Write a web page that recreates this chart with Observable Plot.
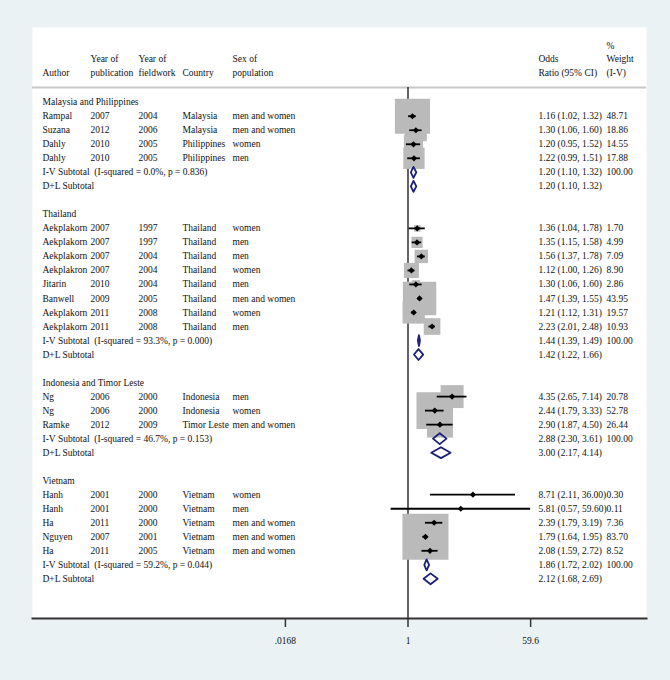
<!DOCTYPE html>
<html><head><meta charset="utf-8">
<script src="https://cdn.jsdelivr.net/npm/d3@7"></script>
<script src="https://cdn.jsdelivr.net/npm/@observablehq/plot@0.6"></script>
<style>body{margin:0;background:#eaf2f3;} svg text{white-space:pre;}</style>
</head><body><div id="chart"></div>
<script>
// ---- data ----
const groupNames = ["Malaysia and Philippines", "Thailand", "Indonesia and Timor Leste", "Vietnam"];
const studyGroup = [0,0,0,0, 1,1,1,1,1,1,1,1, 2,2,2, 3,3,3,3,3];
const authors = ["Rampal","Suzana","Dahly","Dahly",
  "Aekplakorn","Aekplakorn","Aekplakorn","Aekplakron","Jitarin","Banwell","Aekplakorn","Aekplakorn",
  "Ng","Ng","Ramke",
  "Hanh","Hanh","Ha","Nguyen","Ha"];
const pubYears = ["2007","2012","2010","2010",
  "2007","2007","2007","2007","2010","2009","2011","2011",
  "2006","2006","2012",
  "2001","2001","2011","2007","2011"];
const fieldYears = ["2004","2006","2005","2005",
  "1997","1997","2004","2004","2004","2005","2008","2008",
  "2000","2000","2009",
  "2000","2000","2000","2001","2005"];
const countries = ["Malaysia","Malaysia","Philippines","Philippines",
  "Thailand","Thailand","Thailand","Thailand","Thailand","Thailand","Thailand","Thailand",
  "Indonesia","Indonesia","Timor Leste",
  "Vietnam","Vietnam","Vietnam","Vietnam","Vietnam"];
const sexes = ["men and women","men and women","women","men",
  "women","men","men","women","men","men and women","women","men",
  "men","women","men and women",
  "women","men","men and women","men and women","men and women"];
const orEst = [1.16,1.30,1.20,1.22, 1.36,1.35,1.56,1.12,1.30,1.47,1.21,2.23, 4.35,2.44,2.90, 8.71,5.81,2.39,1.79,2.08];
const orLo  = [1.02,1.06,0.95,0.99, 1.04,1.15,1.37,1.00,1.06,1.39,1.12,2.01, 2.65,1.79,1.87, 2.11,0.57,1.79,1.64,1.59];
const orHi  = [1.32,1.60,1.52,1.51, 1.78,1.58,1.78,1.26,1.60,1.55,1.31,2.48, 7.14,3.33,4.50, 36.00,59.60,3.19,1.95,2.72];
const weights = [48.71,18.86,14.55,17.88, 1.70,4.99,7.09,8.90,2.86,43.95,19.57,10.93, 20.78,52.78,26.44, 0.30,0.11,7.36,83.70,8.52];

const ivEst = [1.20,1.44,2.88,1.86];
const ivLo  = [1.10,1.39,2.30,1.72];
const ivHi  = [1.32,1.49,3.61,2.02];
const iSquared = [0.0,93.3,46.7,59.2];
const pHet = [0.836,0.000,0.153,0.044];
const dlEst = [1.20,1.42,3.00,2.12];
const dlLo  = [1.10,1.22,2.17,1.68];
const dlHi  = [1.32,1.66,4.14,2.69];

const headerLabels = ["Author","Year of\npublication","Year of\nfieldwork","Country","Sex of\npopulation","Odds\nRatio (95% CI)","%\nWeight\n(I-V)"];
const tickValues = [0.0168, 1, 59.6];
const tickLabels = [".0168", "1", "59.6"];

// ---- layout helpers (styling) ----
const colDx = [10, 58, 106, 150, 200, 506, 574];
const fmt = v => v.toFixed(2);
const ciText = (e,l,h) => `${fmt(e)} (${fmt(l)}, ${fmt(h)})`;

const textRows = [];
const studies = [];
const diamonds = [];
let row = 0;
groupNames.forEach((g, gi) => {
  textRows.push({row, col: 0, text: g});
  row++;
  studyGroup.forEach((sg, i) => {
    if (sg !== gi) return;
    studies.push({row, or: orEst[i], lo: orLo[i], hi: orHi[i], w: weights[i]});
    [authors[i], pubYears[i], fieldYears[i], countries[i], sexes[i], ciText(orEst[i], orLo[i], orHi[i]), fmt(weights[i])]
      .forEach((t, c) => textRows.push({row, col: c, text: t}));
    row++;
  });
  textRows.push({row, col: 0, text: `I-V Subtotal\u00a0 (I-squared = ${iSquared[gi].toFixed(1)}%, p = ${pHet[gi].toFixed(3)})`});
  textRows.push({row, col: 5, text: ciText(ivEst[gi], ivLo[gi], ivHi[gi])});
  textRows.push({row, col: 6, text: "100.00"});
  diamonds.push({id: "iv" + gi, row, est: ivEst[gi], lo: ivLo[gi], hi: ivHi[gi]});
  row++;
  textRows.push({row, col: 0, text: "D+L Subtotal"});
  textRows.push({row, col: 5, text: ciText(dlEst[gi], dlLo[gi], dlHi[gi])});
  diamonds.push({id: "dl" + gi, row, est: dlEst[gi], lo: dlLo[gi], hi: dlHi[gi]});
  row++;
  row++; // blank
});

const dh = 0.39;
const diamondPts = diamonds.flatMap(d => [
  {id: d.id, x: d.lo, y: d.row},
  {id: d.id, x: d.est, y: d.row - dh},
  {id: d.id, x: d.hi, y: d.row},
  {id: d.id, x: d.est, y: d.row + dh}
]);

const ticks = tickValues.map((v, i) => ({v, label: tickLabels[i]}));

const yTop = -5.33, yBottom = 36.83, sepRow = -1.05, headRow = -1.88;
const k = 30, oneX = 407.5, left = 32, right = 646;

const chart = Plot.plot({
  width: 670, height: 680,
  marginLeft: left, marginRight: 670 - right, marginTop: 27, marginBottom: 62,
  style: {background: "#eaf2f3", fontFamily: "'Liberation Serif', 'DejaVu Serif', serif", fontSize: "9.5px", color: "#111"},
  x: {type: "log", domain: [Math.exp((left - oneX) / k), Math.exp((right - oneX) / k)], axis: null},
  y: {domain: [yTop, yBottom], reverse: true, axis: null},
  r: {type: "sqrt", domain: [0, 100], range: [0, 28.4]},
  marks: [
    Plot.frame({fill: "white", stroke: "none"}),
    Plot.ruleY([sepRow], {stroke: "#c8c8c8", strokeWidth: 2}),
    Plot.ruleX([1], {y1: sepRow, y2: yBottom, stroke: "#111", strokeWidth: 1.3}),
    Plot.dot(studies, {x: "or", y: "row", r: "w", symbol: "square", fill: "#bababa", stroke: "none"}),
    Plot.ruleY(studies, {y: "row", x1: "lo", x2: "hi", stroke: "#000", strokeWidth: 1.8}),
    Plot.dot(studies, {x: "or", y: "row", r: 2.8, symbol: "diamond2", fill: "#000", stroke: "none"}),
    Plot.line(diamondPts, {x: "x", y: "y", z: "id", curve: "linear-closed", stroke: "#1b1f7a", strokeWidth: 1.8, fill: "none"}),
    ...colDx.map((dx, c) => Plot.text(textRows.filter(d => d.col === c), {
      y: "row", text: "text", frameAnchor: "left", dx, textAnchor: "start", fill: "#111"
    })),
    ...colDx.map((dx, c) => Plot.text([headerLabels[c]], {
      y: headRow, text: d => d, frameAnchor: "left", dx, textAnchor: "start", lineAnchor: "bottom", lineHeight: 1.42, fill: "#111"
    })),
    Plot.frame({anchor: "bottom", stroke: "#333", strokeWidth: 2}),
    Plot.ruleX(ticks, {x: "v", y1: yBottom, y2: yBottom, insetBottom: -9, stroke: "#333", strokeWidth: 1.5}),
    Plot.text(ticks, {x: "v", text: "label", frameAnchor: "bottom", dy: 25, fill: "#111"})
  ]
});
document.getElementById("chart").appendChild(chart);
</script>
</body></html>
